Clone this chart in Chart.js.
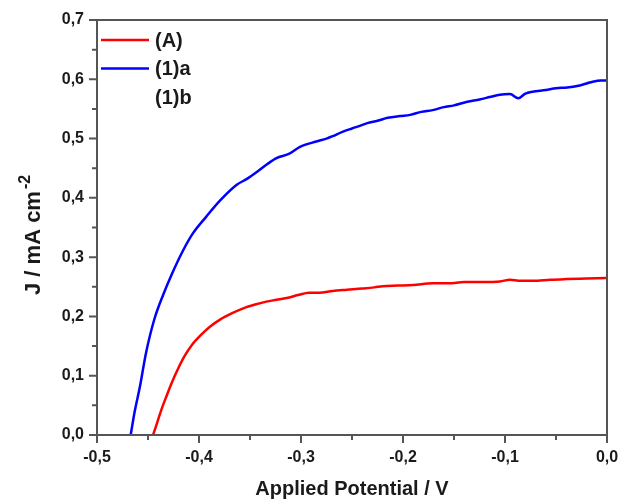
<!DOCTYPE html>
<html>
<head>
<meta charset="utf-8">
<script src="https://cdn.jsdelivr.net/npm/chart.js@4.4.0/dist/chart.umd.min.js"></script>
<style>
  html, body { margin: 0; padding: 0; background: #fff; }
  #wrap { width: 621px; height: 499px; position: relative; }
</style>
</head>
<body>
<div id="wrap"><canvas id="c"></canvas></div>
<script>
// ---- data ----
const seriesLabels = ['(A)', '(1)a', '(1)b'];
const seriesColors = ['#ff0000', '#0000ff', 'rgba(0,0,0,0)'];

const aX = [-0.445, -0.441, -0.437, -0.432, -0.427, -0.421, -0.4145, -0.407, -0.398, -0.389, -0.379, -0.368, -0.356, -0.345, -0.334, -0.324, -0.314, -0.303, -0.292, -0.282, -0.269, -0.255, -0.240, -0.228, -0.220, -0.205, -0.190, -0.171, -0.155, -0.140, -0.122, -0.105, -0.095, -0.085, -0.073, -0.055, -0.040, -0.020, 0.0];
const aY = [0.000, 0.021, 0.042, 0.065, 0.087, 0.110, 0.132, 0.152, 0.169, 0.183, 0.195, 0.205, 0.214, 0.220, 0.225, 0.228, 0.231, 0.236, 0.240, 0.240, 0.243, 0.245, 0.247, 0.249, 0.251, 0.252, 0.253, 0.256, 0.256, 0.258, 0.258, 0.259, 0.262, 0.260, 0.260, 0.262, 0.263, 0.264, 0.265];

const bX = [-0.467, -0.463, -0.458, -0.452, -0.444, -0.435, -0.427, -0.416, -0.406, -0.393, -0.379, -0.363, -0.353, -0.343, -0.333, -0.324, -0.312, -0.301, -0.285, -0.275, -0.269, -0.260, -0.250, -0.243, -0.235, -0.225, -0.215, -0.203, -0.193, -0.182, -0.171, -0.160, -0.150, -0.137, -0.125, -0.115, -0.105, -0.095, -0.087, -0.080, -0.073, -0.060, -0.050, -0.039, -0.028, -0.020, -0.014, -0.006, 0.0];
const bY = [0.000, 0.040, 0.081, 0.138, 0.194, 0.237, 0.270, 0.310, 0.340, 0.368, 0.396, 0.422, 0.432, 0.444, 0.457, 0.467, 0.474, 0.486, 0.495, 0.500, 0.504, 0.511, 0.517, 0.521, 0.526, 0.530, 0.535, 0.538, 0.540, 0.545, 0.548, 0.553, 0.556, 0.562, 0.566, 0.570, 0.574, 0.575, 0.568, 0.576, 0.579, 0.582, 0.585, 0.586, 0.589, 0.593, 0.596, 0.598, 0.598];

const xTicks = [-0.5, -0.4, -0.3, -0.2, -0.1, 0.0];
const yTicks = [0.0, 0.1, 0.2, 0.3, 0.4, 0.5, 0.6, 0.7];
const xTitle = 'Applied Potential / V';
const yTitleMain = 'J / mA cm';
const yTitleSup = '-2';

function pts(xs, ys) { return xs.map((x, i) => ({ x: x, y: ys[i] })); }
function fmt(v) { return (Math.round(v * 10) / 10).toFixed(1).replace('.', ','); }

const AXIS_COLOR = '#555';
const TEXT_COLOR = '#1a1a1a';
const FONT = 'Liberation Sans, Arial, sans-serif';

// frame, ticks, y-title and in-plot legend
const decor = {
  id: 'decor',
  afterDraw(chart) {
    const { ctx, chartArea: a, scales } = chart;
    const xs = scales.x, ys = scales.y;
    ctx.save();
    ctx.strokeStyle = AXIS_COLOR;
    ctx.lineWidth = 2;
    ctx.strokeRect(a.left, a.top, a.right - a.left, a.bottom - a.top);
    ctx.beginPath();
    xTicks.forEach((v, i) => {
      const px = xs.getPixelForValue(v);
      ctx.moveTo(px, a.bottom); ctx.lineTo(px, a.bottom + 8);
      if (i < xTicks.length - 1) {
        const pm = xs.getPixelForValue((v + xTicks[i + 1]) / 2);
        ctx.moveTo(pm, a.bottom); ctx.lineTo(pm, a.bottom + 5);
      }
    });
    yTicks.forEach((v, i) => {
      const py = ys.getPixelForValue(v);
      ctx.moveTo(a.left, py); ctx.lineTo(a.left - 8, py);
      if (i < yTicks.length - 1) {
        const pm = ys.getPixelForValue((v + yTicks[i + 1]) / 2);
        ctx.moveTo(a.left, pm); ctx.lineTo(a.left - 5, pm);
      }
    });
    ctx.stroke();

    // y title with superscript
    ctx.fillStyle = TEXT_COLOR;
    ctx.textBaseline = 'alphabetic';
    const mainFont = 'bold 22px ' + FONT;
    const supFont = 'bold 16px ' + FONT;
    ctx.font = mainFont;
    const w1 = ctx.measureText(yTitleMain).width;
    ctx.translate(40, 295);
    ctx.rotate(-Math.PI / 2);
    ctx.textAlign = 'left';
    ctx.fillText(yTitleMain, 0, 0);
    ctx.font = supFont;
    ctx.fillText(yTitleSup, w1 + 2, -10);
    ctx.setTransform(1, 0, 0, 1, 0, 0);

    // legend inside the plot (top-left)
    ctx.font = 'bold 20px ' + FONT;
    ctx.textAlign = 'left';
    ctx.textBaseline = 'middle';
    chart.data.datasets.forEach((ds, i) => {
      const yy = a.top + 20 + i * 28.5;
      ctx.strokeStyle = ds.borderColor;
      ctx.lineWidth = 2.5;
      ctx.beginPath();
      ctx.moveTo(a.left + 4, yy);
      ctx.lineTo(a.left + 52, yy);
      ctx.stroke();
      ctx.fillStyle = TEXT_COLOR;
      ctx.fillText(ds.label, a.left + 58, yy + 1);
    });
    ctx.restore();
  }
};

const datasets = [
  { label: seriesLabels[0], data: pts(aX, aY), borderColor: seriesColors[0] },
  { label: seriesLabels[1], data: pts(bX, bY), borderColor: seriesColors[1] },
  { label: seriesLabels[2], data: [], borderColor: seriesColors[2] }
].map(d => Object.assign(d, { borderWidth: 2.5, pointRadius: 0, cubicInterpolationMode: 'monotone', fill: false }));

new Chart(document.getElementById('c'), {
  type: 'line',
  data: { datasets: datasets },
  plugins: [decor],
  options: {
    responsive: true,
    maintainAspectRatio: false,
    animation: false,
    devicePixelRatio: 1,
    layout: { padding: { top: 20, right: 14, left: 0, bottom: 0 } },
    plugins: { legend: { display: false }, tooltip: { enabled: false } },
    scales: {
      x: {
        type: 'linear',
        min: xTicks[0], max: xTicks[xTicks.length - 1],
        afterBuildTicks: s => { s.ticks = xTicks.map(v => ({ value: v })); },
        afterFit: s => { s.height = 64; s.paddingLeft = 0; s.paddingRight = 0; },
        grid: { drawOnChartArea: false, drawTicks: false },
        border: { display: false },
        ticks: { callback: v => fmt(v), padding: 13, color: TEXT_COLOR, font: { family: FONT, size: 16, weight: 'bold' }, maxRotation: 0 },
        title: { display: true, text: xTitle, color: TEXT_COLOR, font: { family: FONT, size: 20, weight: 'bold' }, padding: { top: 0, bottom: -2 } }
      },
      y: {
        type: 'linear',
        min: yTicks[0], max: yTicks[yTicks.length - 1],
        afterBuildTicks: s => { s.ticks = yTicks.map(v => ({ value: v })); },
        afterFit: s => { s.width = 97; s.paddingTop = 0; s.paddingBottom = 0; },
        grid: { drawOnChartArea: false, drawTicks: false },
        border: { display: false },
        ticks: { callback: v => fmt(v), padding: 13, color: TEXT_COLOR, font: { family: FONT, size: 16, weight: 'bold' } }
      }
    }
  }
});
</script>
</body>
</html>
